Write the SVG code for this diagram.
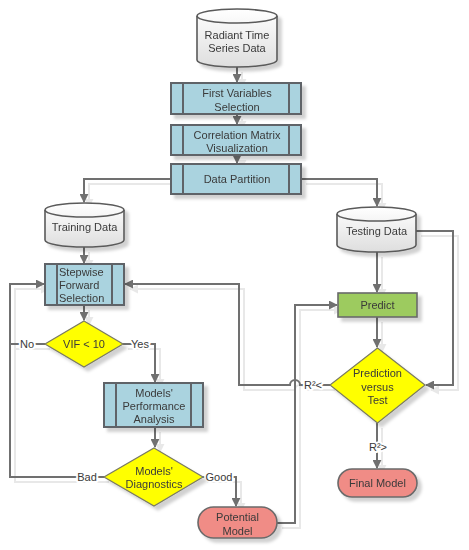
<svg xmlns="http://www.w3.org/2000/svg" width="469" height="550" viewBox="0 0 469 550">
<defs>
<style>
text{font-family:"Liberation Sans",Arial,sans-serif;font-size:11px;fill:#3a3a3a;text-anchor:middle}
.proc{fill:#aad3df;stroke:#5f6468;stroke-width:2}
.inner{stroke:#5f6468;stroke-width:2;fill:none}
.cyl{fill:url(#cylg);stroke:#5a5a5a;stroke-width:1.6}
.dia{fill:#ffff00;stroke:#7a7a60;stroke-width:1.2}
.term{fill:#f08c86;stroke:#6a6a6a;stroke-width:1.6}
.green{fill:#9dcb5e;stroke:#6a6a6a;stroke-width:1.6}
.c{fill:none;stroke:#707070;stroke-width:2}
.lab{stroke:#fff;stroke-width:4;paint-order:stroke;stroke-linejoin:round}
.nodes{filter:url(#sh)}
</style>
<linearGradient id="cylg" x1="0" y1="0" x2="0" y2="1">
<stop offset="0" stop-color="#ffffff"/>
<stop offset="1" stop-color="#dedede"/>
</linearGradient>
<filter id="sh" x="-20%" y="-20%" width="150%" height="150%">
<feDropShadow dx="4" dy="4" stdDeviation="1.5" flood-color="#000" flood-opacity="0.18"/>
</filter>
<filter id="csh" x="-20%" y="-20%" width="150%" height="150%">
<feDropShadow dx="5" dy="5" stdDeviation="0.6" flood-color="#000" flood-opacity="0.09"/>
</filter>
<marker id="ar" viewBox="0 0 10 10" refX="9" refY="5" markerWidth="4.5" markerHeight="4.5" orient="auto" markerUnits="strokeWidth">
<path d="M0,0 L10,5 L0,10 Z" fill="#707070"/>
</marker>
</defs>
<rect width="469" height="550" fill="#fff"/>

<g id="connectors" filter="url(#csh)">
<path class="c" d="M237,67 V82" marker-end="url(#ar)"/>
<path class="c" d="M237,114 V124" marker-end="url(#ar)"/>
<path class="c" d="M237,155 V163" marker-end="url(#ar)"/>
<path class="c" d="M171,179 H84 V202" marker-end="url(#ar)"/>
<path class="c" d="M301,179 H377 V206" marker-end="url(#ar)"/>
<path class="c" d="M84,247 V263" marker-end="url(#ar)"/>
<path class="c" d="M84,305 V320" marker-end="url(#ar)"/>
<path class="c" d="M45,344 H10"/>
<path class="c" d="M104,477 H10 V284 H44" marker-end="url(#ar)"/>
<path class="c" d="M123,344 H155 V382" marker-end="url(#ar)"/>
<path class="c" d="M155,427 V447" marker-end="url(#ar)"/>
<path class="c" d="M202,477 H236 V506" marker-end="url(#ar)"/>
<path class="c" d="M277,523 H295 V305 H337" marker-end="url(#ar)"/>
<path class="c" d="M377,252 V292" marker-end="url(#ar)"/>
<path class="c" d="M416,231 H453 V385 H426" marker-end="url(#ar)"/>
<path class="c" d="M377,317 V347" marker-end="url(#ar)"/>
<path class="c" d="M330,385 H300 A5,5 0 0 0 290,385 H239 V284 H125" marker-end="url(#ar)"/>
<path class="c" d="M377,423 V468" marker-end="url(#ar)"/>
</g>

<g id="labels">
<text class="lab" x="27" y="348">No</text>
<text class="lab" x="140" y="348">Yes</text>
<text class="lab" x="87" y="481">Bad</text>
<text class="lab" x="219" y="481">Good</text>
<text class="lab" x="313" y="389">R²&lt;</text>
<text class="lab" x="378" y="451">R²&gt;</text>
</g>

<g class="nodes">
<g id="radiant">
<path class="cyl" d="M197,16 A40,7 0 0 1 277,16 V60 A40,7 0 0 1 197,60 Z"/>
<path class="inner" style="stroke-width:1.6;stroke:#5a5a5a" d="M197,16 A40,7 0 0 0 277,16"/>
<text x="237" y="39">Radiant Time</text>
<text x="237" y="52">Series Data</text>
</g>
<g id="first-vars">
<rect class="proc" x="171" y="83" width="130" height="31"/>
<path class="inner" d="M183,83 V114 M289,83 V114"/>
<text x="237" y="97">First Variables</text>
<text x="237" y="111">Selection</text>
</g>
<g id="corr">
<rect class="proc" x="171" y="125" width="130" height="30"/>
<path class="inner" d="M183,125 V155 M289,125 V155"/>
<text x="237" y="139">Correlation Matrix</text>
<text x="237" y="152">Visualization</text>
</g>
<g id="partition">
<rect class="proc" x="171" y="164" width="130" height="30"/>
<path class="inner" d="M183,164 V194 M289,164 V194"/>
<text x="237" y="183">Data Partition</text>
</g>
<g id="training">
<path class="cyl" d="M45,210 A39.5,7 0 0 1 124,210 V240 A39.5,7 0 0 1 45,240 Z"/>
<path class="inner" style="stroke-width:1.6;stroke:#5a5a5a" d="M45,210 A39.5,7 0 0 0 124,210"/>
<text x="84.5" y="231">Training Data</text>
</g>
<g id="testing">
<path class="cyl" d="M337,214 A39.5,7 0 0 1 416,214 V245 A39.5,7 0 0 1 337,245 Z"/>
<path class="inner" style="stroke-width:1.6;stroke:#5a5a5a" d="M337,214 A39.5,7 0 0 0 416,214"/>
<text x="376.5" y="235">Testing Data</text>
</g>
<g id="stepwise">
<rect class="proc" x="45" y="264" width="79" height="41"/>
<path class="inner" d="M57,264 V305 M112,264 V305"/>
<text x="59" y="276" style="text-anchor:start">Stepwise</text>
<text x="59" y="289" style="text-anchor:start">Forward</text>
<text x="59" y="302" style="text-anchor:start">Selection</text>
</g>
<g id="vif">
<polygon class="dia" points="84,321 123,344 84,367 45,344"/>
<text x="84" y="348">VIF &lt; 10</text>
</g>
<g id="performance">
<rect class="proc" x="104" y="383" width="99" height="44"/>
<path class="inner" d="M116,383 V427 M191,383 V427"/>
<text x="154" y="397">Models'</text>
<text x="154" y="410">Performance</text>
<text x="154" y="423">Analysis</text>
</g>
<g id="diagnostics">
<polygon class="dia" points="154,448 203,477 154,506 104,477"/>
<text x="154" y="475">Models'</text>
<text x="154" y="488">Diagnostics</text>
</g>
<g id="potential">
<rect class="term" x="198" y="507" width="79" height="31" rx="15.5"/>
<text x="237.5" y="521">Potential</text>
<text x="237.5" y="535">Model</text>
</g>
<g id="predict">
<rect class="green" x="338" y="293" width="79" height="24"/>
<text x="377.5" y="309">Predict</text>
</g>
<g id="prediction">
<polygon class="dia" points="377.5,348 425,385 377.5,423 330,385"/>
<text x="377.5" y="377">Prediction</text>
<text x="377.5" y="391">versus</text>
<text x="377.5" y="404">Test</text>
</g>
<g id="final">
<rect class="term" x="338" y="469" width="79" height="28" rx="14"/>
<text x="377.5" y="487">Final Model</text>
</g>
</g>
</svg>
